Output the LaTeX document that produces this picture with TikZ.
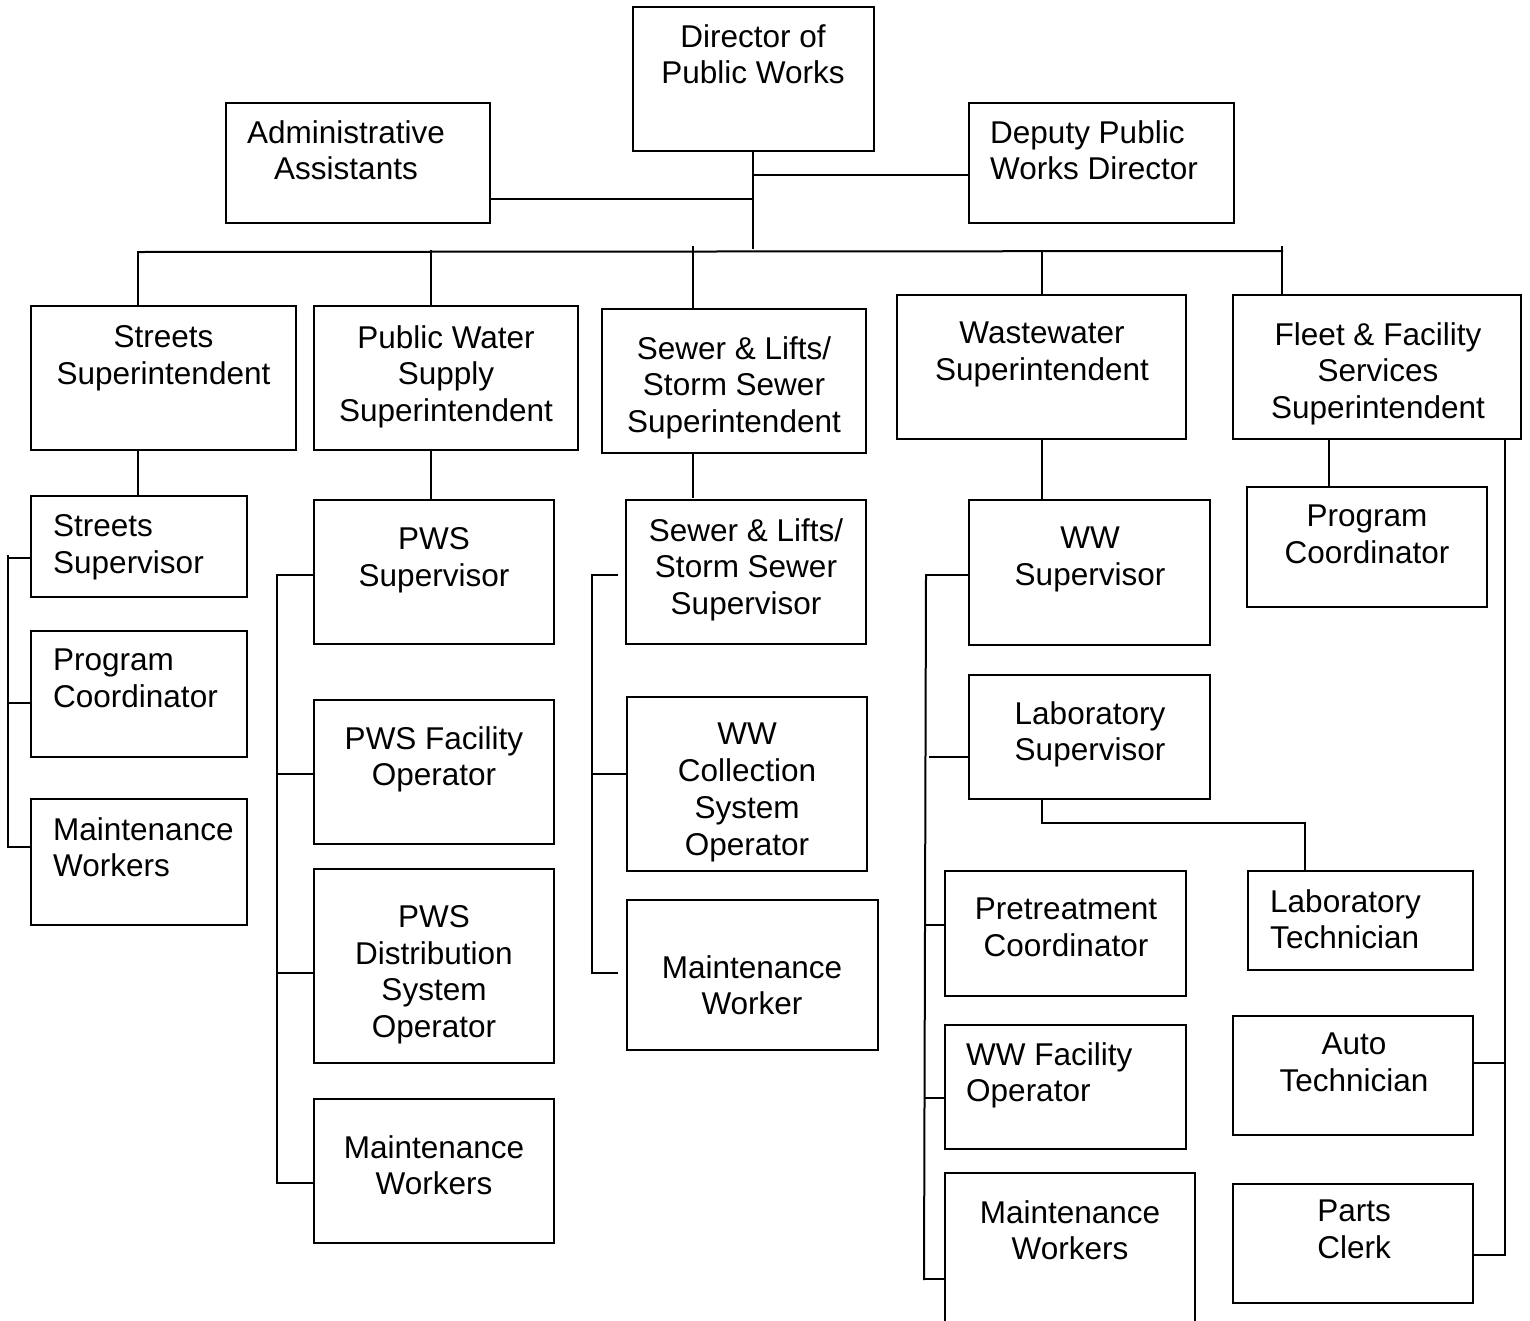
\documentclass[tikz,border=0pt]{standalone}
\usepackage{fontspec}
\setmainfont{Liberation Sans}
\usetikzlibrary{fit}

\begin{document}
\begin{tikzpicture}[
  x=1pt, y=-1pt,
  orgbox/.style={draw, line width=2pt, inner sep=0pt, rectangle},
  lbl/.style={inner sep=0pt, font=\fontsize{31.5}{36.8}\selectfont, yshift=23pt},
  ctr/.style={lbl, align=center, anchor=north},
  lft/.style={lbl, align=left, anchor=north west},
  link/.style={line width=2pt, line cap=rect}
]
\useasboundingbox (0,0) rectangle (1530,1320);

% ---- boxes ----
\node[orgbox, fit={(633,7) (874,151)}]      (dir)   {};
\node[orgbox, fit={(226,103) (490,223)}]    (adm)   {};
\node[orgbox, fit={(969,103) (1234,223)}]   (dep)   {};

\node[orgbox, fit={(31,306) (296,450)}]     (sts)   {};
\node[orgbox, fit={(314,306) (578,450)}]    (pws)   {};
\node[orgbox, fit={(602,309) (866,453)}]    (sew)   {};
\node[orgbox, fit={(897,295) (1186,439)}]   (ww)    {};
\node[orgbox, fit={(1233,295) (1521,439)}]  (flt)   {};

\node[orgbox, fit={(31,496) (247,597)}]     (ssup)  {};
\node[orgbox, fit={(31,631) (247,757)}]     (spc)   {};
\node[orgbox, fit={(31,799) (247,925)}]     (smw)   {};

\node[orgbox, fit={(314,500) (554,644)}]    (psup)  {};
\node[orgbox, fit={(314,700) (554,844)}]    (pfac)  {};
\node[orgbox, fit={(314,869) (554,1063)}]   (pdis)  {};
\node[orgbox, fit={(314,1099) (554,1243)}]  (pmw)   {};

\node[orgbox, fit={(626,500) (866,644)}]    (ssv)   {};
\node[orgbox, fit={(627,697) (867,871)}]    (wcol)  {};
\node[orgbox, fit={(627,900) (878,1050)}]   (wmw)   {};

\node[orgbox, fit={(969,500) (1210,645)}]   (wwsup) {};
\node[orgbox, fit={(969,675) (1210,799)}]   (lsup)  {};
\node[orgbox, fit={(945,871) (1186,996)}]   (pret)  {};
\node[orgbox, fit={(1248,871) (1473,970)}]  (ltec)  {};
\node[orgbox, fit={(945,1025) (1186,1149)}] (wfac)  {};
\node[orgbox, fit={(945,1173) (1195,1340)}] (wwmw)  {};

\node[orgbox, fit={(1247,487) (1487,607)}]  (fpc)   {};
\node[orgbox, fit={(1233,1016) (1473,1135)}] (auto) {};
\node[orgbox, fit={(1233,1184) (1473,1303)}] (parts) {};

% ---- texts (positions give the first baseline) ----
\node[ctr] (dir-t)   at (753,47)   {Director of\\Public Works};
\node[ctr] (adm-t)   at (346,143)  {Administrative\\Assistants};
\node[lft] (dep-t)   at (990,143)  {Deputy Public\\Works Director};

\node[ctr] (sts-t)   at (163.5,348) {Streets\\Superintendent};
\node[ctr] (pws-t)   at (446,348)  {Public Water\\Supply\\Superintendent};
\node[ctr] (sew-t)   at (734,359)  {Sewer \& Lifts/\\Storm Sewer\\Superintendent};
\node[ctr] (ww-t)    at (1042,345) {Wastewater\\Superintendent};
\node[ctr] (flt-t)   at (1378,345) {Fleet \& Facility\\Services\\Superintendent};

\node[lft] (ssup-t)  at (53,537)   {Streets\\Supervisor};
\node[lft] (spc-t)   at (53,672)   {Program\\Coordinator};
\node[lft] (smw-t)   at (53,840)   {Maintenance\\Workers};

\node[ctr] (psup-t)  at (434,550)  {PWS\\Supervisor};
\node[ctr] (pfac-t)  at (434,749)  {PWS Facility\\Operator};
\node[ctr] (pdis-t)  at (434,928)  {PWS\\Distribution\\System\\Operator};
\node[ctr] (pmw-t)   at (434,1158) {Maintenance\\Workers};

\node[ctr] (ssv-t)   at (746,541)  {Sewer \& Lifts/\\Storm Sewer\\Supervisor};
\node[ctr] (wcol-t)  at (747,746)  {WW\\Collection\\System\\Operator};
\node[ctr] (wmw-t)   at (752,978)  {Maintenance\\Worker};

\node[ctr] (wwsup-t) at (1090,550) {WW\\Supervisor};
\node[ctr] (lsup-t)  at (1090,724) {Laboratory\\Supervisor};
\node[ctr] (pret-t)  at (1066,921) {Pretreatment\\Coordinator};
\node[lft] (ltec-t)  at (1270,912) {Laboratory\\Technician};
\node[lft] (wfac-t)  at (966,1065) {WW Facility\\Operator};
\node[ctr] (wwmw-t)  at (1070,1223) {Maintenance\\Workers};

\node[ctr] (fpc-t)   at (1367,528) {Program\\Coordinator};
\node[ctr] (auto-t)  at (1354,1056) {Auto\\Technician};
\node[ctr] (parts-t) at (1354,1223) {Parts\\Clerk};

% ---- junction points ----
\coordinate (hub)  at (753,248);
\coordinate (depJ) at (753,175);
\coordinate (admJ) at (753,199);
\coordinate (busL) at (138,252);
\coordinate (busR) at (1282,251);
\coordinate (dA) at (138,252);
\coordinate (dB) at (431,251);
\coordinate (dC) at (693,247);
\coordinate (dD) at (1042,251);
\coordinate (dE) at (1282,247);
\coordinate (fE) at (1329,439);

% ---- top level ----
\draw[link] (dir.south -| hub) -- (hub);
\draw[link] (depJ) -- (depJ -| dep.west);
\draw[link] (admJ) -- (admJ -| adm.east);
\draw[link] (busL) -- (busR);
\draw[link] (dA) -- (dA |- sts.north);
\draw[link] (dB) -- (dB |- pws.north);
\draw[link] (dC) -- (dC |- sew.north);
\draw[link] (dD) -- (dD |- ww.north);
\draw[link] (dE) -- (dE |- flt.north);

% ---- superintendents to first reports ----
\draw[link] (sts.south -| dA) -- (ssup.north -| dA);
\draw[link] (pws.south -| dB) -- (psup.north -| dB);
\draw[link] (sew.south -| dC) -- (dC |- 0,497);
\draw[link] (ww.south -| dD) -- (wwsup.north -| dD);
\draw[link] (fE) -- (fE |- fpc.north);

% ---- streets group ----
\coordinate (s1) at (8,558);
\coordinate (s2) at (8,703);
\coordinate (s3) at (8,847);
\draw[link] (8,556) -- (s3);
\draw[link] (s1) -- (s1 -| ssup.west);
\draw[link] (s2) -- (s2 -| spc.west);
\draw[link] (s3) -- (s3 -| smw.west);

% ---- public water supply group ----
\coordinate (p1) at (277,575);
\coordinate (p2) at (277,774);
\coordinate (p3) at (277,973);
\coordinate (p4) at (277,1183);
\draw[link] (p1) -- (p4);
\draw[link] (p1) -- (p1 -| psup.west);
\draw[link] (p2) -- (p2 -| pfac.west);
\draw[link] (p3) -- (p3 -| pdis.west);
\draw[link] (p4) -- (p4 -| pmw.west);

% ---- sewer group ----
\coordinate (c1) at (592,575);
\coordinate (c2) at (592,774);
\coordinate (c3) at (592,973);
\draw[link] (c1) -- (c3);
\draw[link] (c1) -- (617,575);
\draw[link] (c2) -- (c2 -| wcol.west);
\draw[link] (c3) -- (617,973);

% ---- wastewater group ----
\coordinate (w1) at (926,575);
\coordinate (w2) at (930,757);
\coordinate (w3) at (926,925);
\coordinate (w4) at (926,1098);
\coordinate (w5) at (924,1279);
\draw[link] (w1) -- (w5);
\draw[link] (w1) -- (w1 -| wwsup.west);
\draw[link] (w2) -- (w2 -| lsup.west);
\draw[link] (w3) -- (w3 -| pret.west);
\draw[link] (w4) -- (w4 -| wfac.west);
\draw[link] (w5) -- (w5 -| wwmw.west);

% laboratory supervisor to technician
\coordinate (lj) at (1042,823);
\coordinate (lk) at (1305,823);
\draw[link] (lsup.south -| lj) -- (lj) -- (lk) -- (lk |- ltec.north);

% ---- fleet group ----
\coordinate (f1) at (1505,1063);
\coordinate (f2) at (1505,1255);
\draw[link] (flt.south -| f1) -- (f2);
\draw[link] (f1) -- (f1 -| auto.east);
\draw[link] (f2) -- (f2 -| parts.east);
\end{tikzpicture}
\end{document}
